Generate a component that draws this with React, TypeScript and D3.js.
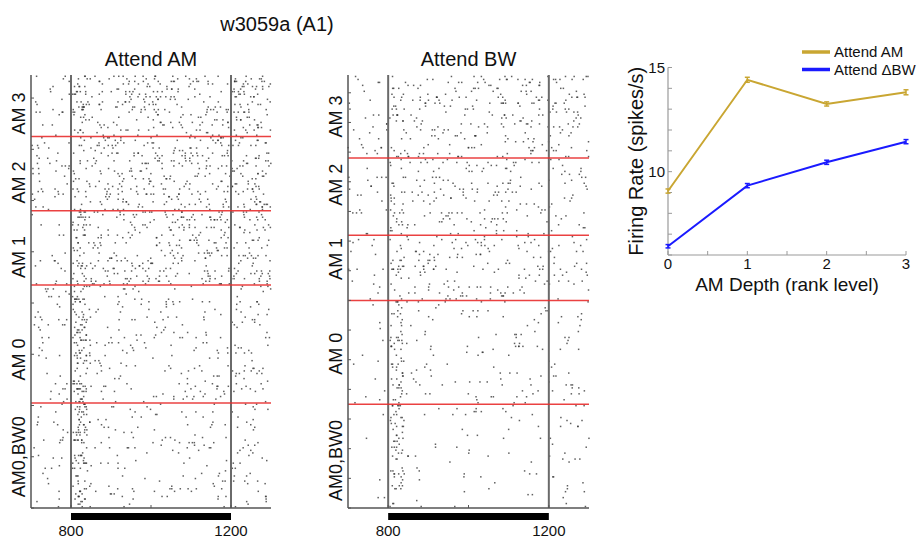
import React, { useMemo } from "react";
import * as d3 from "d3";

// ---------- data ----------
const title = "w3059a (A1)";
const panelTitles = ["Attend AM", "Attend BW"];
// conditions listed bottom to top
const conditions = ["AM0,BW0", "AM 0", "AM 1", "AM 2", "AM 3"];
// trial boundaries for each condition block (bottom to top)
const leftBounds = [0, 41, 87, 116, 145, 169];
const rightBounds = [0, 35, 70, 92, 118, 146];
// trial positions of the condition labels
const leftLabelPos = [20, 58, 98, 127, 154];
const rightLabelPos = [16, 52, 84, 109, 132];
// time epochs (ms): baseline, onset, sustained, offset
const epochs = [
  [700, 800],
  [804, 840],
  [840, 1200],
  [1200, 1300],
];
// spike density, spikes per trial per 100 ms, per condition (bottom to top) per epoch
const leftRates = [
  [0.8, 6.0, 0.85, 1.1],
  [0.7, 6.0, 1.0, 1.6],
  [0.9, 4.0, 2.1, 2.4],
  [1.1, 3.0, 2.2, 2.5],
  [0.8, 3.5, 2.5, 2.8],
];
const rightRates = [
  [0.4, 6.0, 0.55, 0.8],
  [0.6, 6.0, 0.8, 1.1],
  [0.8, 3.5, 1.5, 1.3],
  [0.8, 3.5, 1.7, 1.3],
  [1.0, 3.0, 2.0, 2.0],
];
const timeTicks = [800, 1200];
const timeDomain = [700, 1300];
const stimWindow = [800, 1200];

const depthLevels = [0, 1, 2, 3];
const attendAM = [9.07, 14.41, 13.25, 13.81];
const attendBW = [6.42, 9.33, 10.45, 11.44];
const errAM = [0.1, 0.12, 0.1, 0.12];
const errBW = [0.08, 0.1, 0.1, 0.1];
const seriesNames = ["Attend AM", "Attend \u0394BW"];
const yTickLabels = [10, 15];

// ---------- helpers ----------
function mulberry32(a: number) {
  return function () {
    a |= 0;
    a = (a + 0x6d2b79f5) | 0;
    let t = Math.imul(a ^ (a >>> 15), 1 | a);
    t = (t + Math.imul(t ^ (t >>> 7), 61 | t)) ^ t;
    return ((t ^ (t >>> 14)) >>> 0) / 4294967296;
  };
}
function poisson(rng: () => number, lam: number) {
  const L = Math.exp(-lam);
  let k = 0;
  let p = 1;
  do {
    k++;
    p *= rng();
  } while (p > L);
  return k - 1;
}
function makeSpikes(bounds: number[], rates: number[][], seed: number) {
  const rng = mulberry32(seed);
  const out: { t: number; trial: number }[] = [];
  for (let c = 0; c < conditions.length; c++) {
    for (let tr = bounds[c]; tr < bounds[c + 1]; tr++) {
      epochs.forEach((ep, e) => {
        const dur = ep[1] - ep[0];
        const n = poisson(rng, (rates[c][e] * dur) / 100);
        for (let i = 0; i < n; i++) {
          out.push({ t: ep[0] + rng() * dur, trial: tr + 0.5 });
        }
      });
    }
  }
  return out;
}

const FONT = "'Liberation Sans', Arial, Helvetica, sans-serif";

function Raster({
  x0,
  x1,
  bounds,
  rates,
  labelPos,
  seed,
  tickStep,
  heading,
}: {
  x0: number;
  x1: number;
  bounds: number[];
  rates: number[][];
  labelPos: number[];
  seed: number;
  tickStep: number;
  heading: string;
}) {
  const top = 75;
  const bottom = 508;
  const nTrials = bounds[bounds.length - 1];
  const x = d3.scaleLinear().domain(timeDomain).range([x0, x1]);
  const y = d3.scaleLinear().domain([0, nTrials]).range([bottom, top]);
  const spikes = useMemo(() => makeSpikes(bounds, rates, seed), []);
  const yTicks = d3.range(0, nTrials + 1, tickStep);
  const xTicks = [800, 1000, 1200];
  return (
    <g>
      <text
        x={(x0 + x1) / 2}
        y={66}
        textAnchor="middle"
        fontSize={20}
        fontFamily={FONT}
        fill="#111"
      >
        {heading}
      </text>
      {spikes.map((s, i) => (
        <rect
          key={i}
          x={x(s.t) - 0.75}
          y={y(s.trial) - 0.75}
          width={1.5}
          height={1.5}
          fill="#333"
          fillOpacity={0.78}
        />
      ))}
      {stimWindow.map((t) => (
        <line
          key={t}
          x1={x(t)}
          x2={x(t)}
          y1={top}
          y2={bottom}
          stroke="#6a6a6a"
          strokeWidth={2}
        />
      ))}
      {bounds.slice(1, -1).map((b) => (
        <line
          key={b}
          x1={x0}
          x2={x1}
          y1={y(b)}
          y2={y(b)}
          stroke="#e82c2c"
          strokeOpacity={0.9}
          strokeWidth={1.5}
        />
      ))}
      {/* axes */}
      <line x1={x0} x2={x0} y1={top} y2={bottom} stroke="#555" strokeWidth={1.5} />
      <line x1={x0} x2={x1} y1={bottom} y2={bottom} stroke="#555" strokeWidth={1.5} />
      {yTicks.map((t) => (
        <line key={t} x1={x0} x2={x0 + 3} y1={y(t)} y2={y(t)} stroke="#555" strokeWidth={1} />
      ))}
      {xTicks.map((t) => (
        <line key={t} x1={x(t)} x2={x(t)} y1={bottom} y2={bottom - 3} stroke="#555" strokeWidth={1} />
      ))}
      {conditions.map((c, i) => (
        <text
          key={c}
          transform={`translate(${x0 - 12},${y(labelPos[i])}) rotate(-90)`}
          textAnchor="middle"
          dominantBaseline="central"
          fontSize={18}
          fontFamily={FONT}
          fill="#111"
        >
          {c}
        </text>
      ))}
      <rect
        x={x(stimWindow[0])}
        y={513}
        width={x(stimWindow[1]) - x(stimWindow[0])}
        height={7}
        fill="#000"
      />
      {timeTicks.map((t) => (
        <text
          key={t}
          x={x(t)}
          y={536}
          textAnchor="middle"
          fontSize={15}
          fontFamily={FONT}
          fill="#111"
        >
          {t}
        </text>
      ))}
    </g>
  );
}

function RateChart() {
  const x = d3.scaleLinear().domain([0, 3]).range([668, 906]);
  const y = d3.scaleLinear().domain([6, 15]).range([255, 67.5]);
  const line = d3
    .line<number>()
    .x((_, i) => x(depthLevels[i]))
    .y((d) => y(d));
  const series = [
    { vals: attendAM, err: errAM, color: "#c9a632" },
    { vals: attendBW, err: errBW, color: "#1a1aff" },
  ];
  const minorY = d3.range(6, 16, 1);
  const minorX = d3.range(0, 3.01, 0.5);
  return (
    <g fontFamily={FONT}>
      <line x1={x(0)} x2={x(0)} y1={y(15)} y2={y(6)} stroke="#9a9a9a" strokeWidth={1.2} />
      <line x1={x(0)} x2={x(3)} y1={y(6)} y2={y(6)} stroke="#9a9a9a" strokeWidth={1.2} />
      {minorY.map((t) => (
        <line key={t} x1={x(0)} x2={x(0) + 4} y1={y(t)} y2={y(t)} stroke="#9a9a9a" strokeWidth={1} />
      ))}
      {minorX.map((t) => (
        <line key={t} x1={x(t)} x2={x(t)} y1={y(6)} y2={y(6) - 4} stroke="#9a9a9a" strokeWidth={1} />
      ))}
      {yTickLabels.map((t) => (
        <text key={t} x={x(0) - 3} y={y(t)} dy="0.36em" textAnchor="end" fontSize={15} fill="#111">
          {t}
        </text>
      ))}
      {depthLevels.map((t) => (
        <text key={t} x={x(t)} y={y(6) + 14} textAnchor="middle" fontSize={15} fill="#111">
          {t}
        </text>
      ))}
      {series.map((s, k) => (
        <g key={k}>
          <path d={line(s.vals) || ""} fill="none" stroke={s.color} strokeWidth={2} />
          {s.vals.map((v, i) => (
            <g key={i} stroke={s.color} strokeWidth={1.5}>
              <line x1={x(depthLevels[i])} x2={x(depthLevels[i])} y1={y(v - s.err[i])} y2={y(v + s.err[i])} />
              <line x1={x(depthLevels[i]) - 2.5} x2={x(depthLevels[i]) + 2.5} y1={y(v - s.err[i])} y2={y(v - s.err[i])} />
              <line x1={x(depthLevels[i]) - 2.5} x2={x(depthLevels[i]) + 2.5} y1={y(v + s.err[i])} y2={y(v + s.err[i])} />
            </g>
          ))}
        </g>
      ))}
      {/* legend */}
      {seriesNames.map((n, i) => (
        <g key={n}>
          <line x1={802} x2={830} y1={52 + i * 17.5} y2={52 + i * 17.5} stroke={series[i].color} strokeWidth={3.5} />
          <text x={834} y={52 + i * 17.5} dy="0.36em" fontSize={15} fill="#111">
            {n}
          </text>
        </g>
      ))}
      <text
        transform={`translate(636,${(y(6) + y(15)) / 2}) rotate(-90)`}
        textAnchor="middle"
        dominantBaseline="central"
        fontSize={20}
        fill="#111"
      >
        Firing Rate (spikes/s)
      </text>
      <text x={(x(0) + x(3)) / 2} y={291} textAnchor="middle" fontSize={19} fill="#111">
        AM Depth (rank level)
      </text>
    </g>
  );
}

export default function App() {
  return (
    <svg
      width={918}
      height={540}
      style={{ position: "absolute", left: 0, top: 0, background: "#fff" }}
    >
      <rect width={918} height={540} fill="#fff" />
      <text x={277} y={31} textAnchor="middle" fontSize={20} fontFamily={FONT} fill="#111">
        {title}
      </text>
      <Raster
        x0={31}
        x1={271}
        bounds={leftBounds}
        rates={leftRates}
        labelPos={leftLabelPos}
        seed={3059}
        tickStep={20}
        heading={panelTitles[0]}
      />
      <Raster
        x0={348}
        x1={589}
        bounds={rightBounds}
        rates={rightRates}
        labelPos={rightLabelPos}
        seed={9503}
        tickStep={10}
        heading={panelTitles[1]}
      />
      <RateChart />
    </svg>
  );
}
